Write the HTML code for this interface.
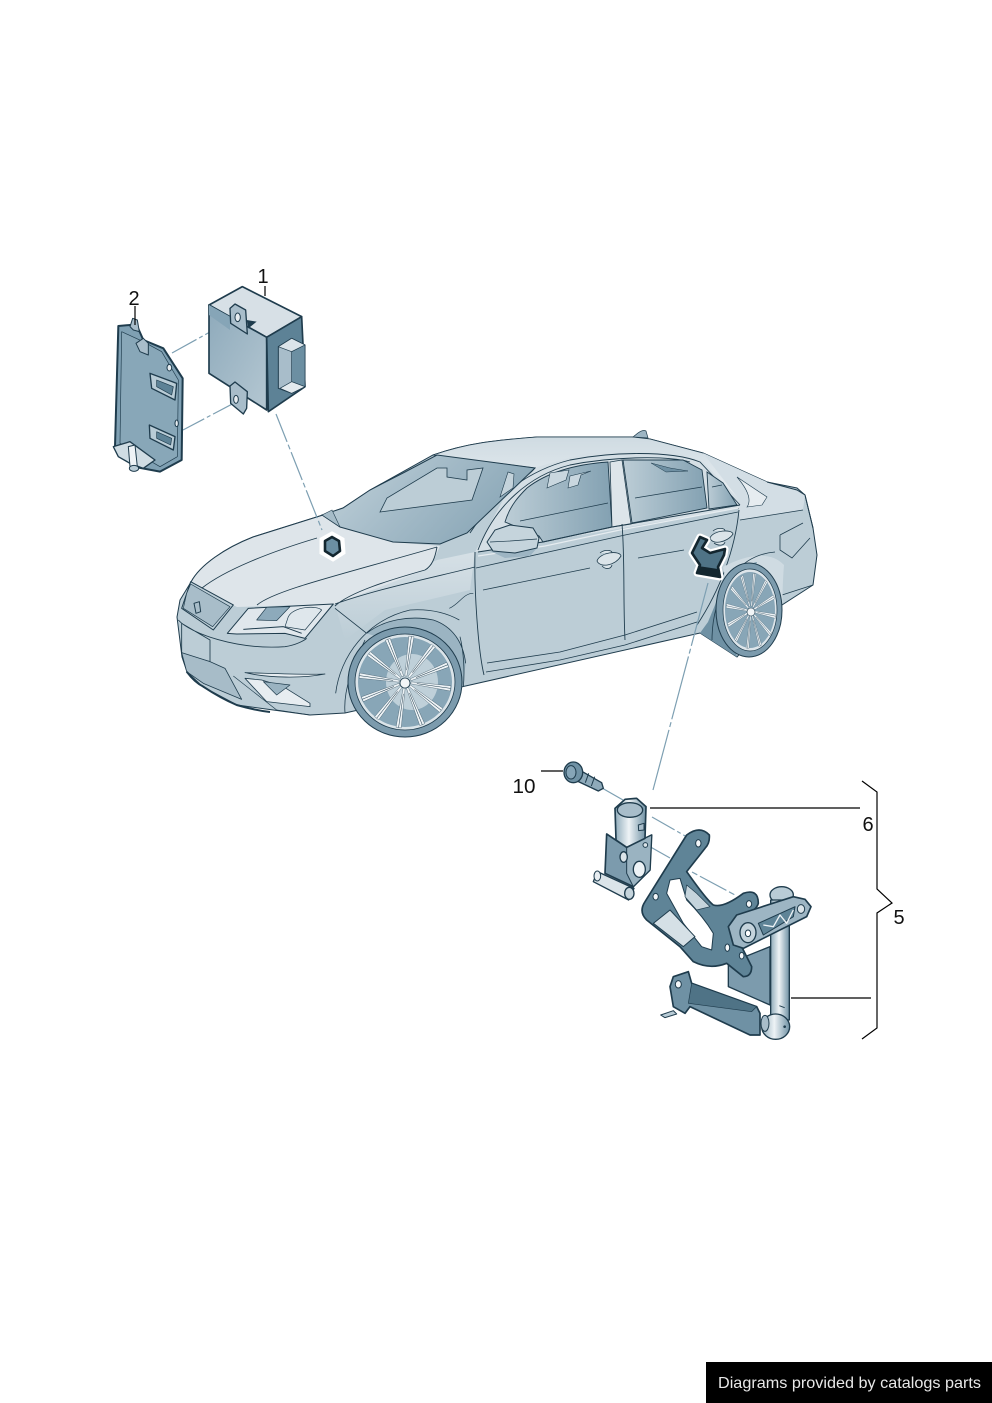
<!DOCTYPE html>
<html><head><meta charset="utf-8"><style>
html,body{margin:0;padding:0;background:#fff}
svg{display:block}
text{font-family:"Liberation Sans",sans-serif}
</style></head><body>
<svg xmlns="http://www.w3.org/2000/svg" width="992" height="1403" viewBox="0 0 992 1403">
<defs>
<linearGradient id="glass" x1="0" y1="0" x2="1" y2=".4"><stop offset="0" stop-color="#c4d4dc"/><stop offset=".55" stop-color="#a3bac7"/><stop offset="1" stop-color="#8aa7b7"/></linearGradient>
<linearGradient id="side" x1="0" y1="0" x2="1" y2="0"><stop offset="0" stop-color="#bccdd6"/><stop offset="1" stop-color="#83a1b2"/></linearGradient>
<linearGradient id="roof" x1="0" y1="0" x2="0" y2="1"><stop offset="0" stop-color="#cfdbe2"/><stop offset="1" stop-color="#eef2f5"/></linearGradient>
<linearGradient id="fend" x1="0" y1="0" x2="0" y2="1"><stop offset="0" stop-color="#d6e0e6"/><stop offset="1" stop-color="#bccdd6"/></linearGradient>
<linearGradient id="rod" x1="0" y1="0" x2="1" y2="0"><stop offset="0" stop-color="#8fabba"/><stop offset=".45" stop-color="#eef3f6"/><stop offset="1" stop-color="#6f91a4"/></linearGradient>
<linearGradient id="box" x1="0" y1="0" x2="1" y2="1"><stop offset="0" stop-color="#8eaabb"/><stop offset="1" stop-color="#b4c7d2"/></linearGradient>
<g id="spk"><path d="M-1 -6 L-2.6 -46 L2.6 -46 L1 -6Z" fill="#eef3f6" stroke="#1f3c4d" stroke-width=".3"/><path d="M0 -12V-46" stroke="#1f3c4d" stroke-width=".5"/></g>
<g id="wh">
<use href="#spk"/><use href="#spk" transform="rotate(30)"/><use href="#spk" transform="rotate(60)"/><use href="#spk" transform="rotate(90)"/><use href="#spk" transform="rotate(120)"/><use href="#spk" transform="rotate(150)"/><use href="#spk" transform="rotate(180)"/><use href="#spk" transform="rotate(210)"/><use href="#spk" transform="rotate(240)"/><use href="#spk" transform="rotate(270)"/><use href="#spk" transform="rotate(300)"/><use href="#spk" transform="rotate(330)"/>
</g>
</defs>

<!-- CAR BODY -->
<path d="M191 582C200 565 225 548 253 537L323 515 343 508 370 490 433 455C470 442 500 440 537 437L633 437 650 439 703 453 767 482 797 488 805 495 813 528 817 555 813 585 782 605 737 657 700 633 470 685 345 713 310 715 237 705 203 687 187 672 182 657 177 617 180 600Z" fill="#bccdd6" stroke="#1f3c4d" stroke-width="1"/>
<path d="M335 604 437 560 475 552 470 590 385 610 345 640Z" fill="url(#fend)"/>
<path d="M433 455C470 442 500 440 537 437L633 437 650 439 703 453 767 482 797 492 740 510 702 470 683 458 610 456 557 462 527 478 535 468Z" fill="url(#roof)" stroke="#1f3c4d" stroke-width=".8"/>
<path d="M191 582C200 565 225 548 253 537L323 515 340 527 393 542 440 546 430 568 335 604 237 607 233 605Z" fill="#dee5ea" stroke="none"/>
<path d="M191 582C200 565 225 548 253 537L323 515" fill="none" stroke="#1f3c4d" stroke-width="1"/>
<path d="M202 588C225 570 270 552 317 538M257 605C275 590 340 575 437 547M437 547C435 558 432 566 425 570 390 580 350 592 335 606M335 604C380 588 440 576 475 567" fill="none" stroke="#1f3c4d" stroke-width=".9"/>
<path d="M703 453 767 482 797 490 805 495 803 510 740 520 737 497Z" fill="#d3dee5"/>
<path d="M737 477 767 497 762 505 747 507C752 500 748 490 737 477Z" fill="#e6ecf0" stroke="#1f3c4d" stroke-width=".6"/>
<path d="M767 482 797 490 805 495 813 528" fill="none" stroke="#1f3c4d" stroke-width="1"/>
<path d="M740 520 803 510M780 535 803 523M780 535V550L792 558 810 538M782 595 813 585" fill="none" stroke="#1f3c4d" stroke-width=".8"/>
<path d="M475 552 503 500 537 467 587 453 670 450 703 462 737 497 739 508 612 530Z" fill="#d5dfe5" stroke="none"/>
<path d="M470 533C495 495 530 470 570 460 610 452 670 450 700 462L740 505M478 550C495 505 530 475 570 465 610 457 665 455 690 462" fill="none" stroke="#1f3c4d" stroke-width=".9"/>
<path d="M322 515 340 527 393 542 440 544 467 533 535 468 437 455 405 472 370 490 343 508Z" fill="url(#glass)" stroke="#1f3c4d" stroke-width="1"/>
<path d="M380 512 387 498 437 468 447 468 447 477 467 480 467 470 483 468 472 500Z" fill="#bccdd6" stroke="#1f3c4d" stroke-width=".8"/>
<path d="M322 515 332 510 340 527Z" fill="#a6bcc8" stroke="#1f3c4d" stroke-width=".6"/>
<path d="M500 497 508 472 514 474 513 488Z" fill="#c4d3db" stroke="#1f3c4d" stroke-width=".6"/>
<path d="M505 522C510 505 520 495 527 488 550 470 580 464 608 462L612 527 543 542 539 536Z" fill="url(#side)" stroke="#1f3c4d" stroke-width=".9"/>
<path d="M623 460 683 460 702 470 707 508 632 523Z" fill="url(#side)" stroke="#1f3c4d" stroke-width=".9"/>
<path d="M707 472 723 483 737 505 709 509Z" fill="url(#side)" stroke="#1f3c4d" stroke-width=".9"/>
<path d="M610 462 622 460 631 524 612 527Z" fill="#dde5ea" stroke="#1f3c4d" stroke-width=".8"/>
<path d="M520 521 608 503M635 498 702 487M712 487 722 485" fill="none" stroke="#1f3c4d" stroke-width=".7"/>
<path d="M547 488 566 480 569 470 550 473ZM568 488 570 476 591 471 581 475 578 485Z" fill="#c9d7df" stroke="#1f3c4d" stroke-width=".6"/>
<path d="M651 463 670 468 688 471 666 472Z" fill="#6f90a3" stroke="#1f3c4d" stroke-width=".5"/>
<path d="M478 552 543 542 612 527 740 505" fill="none" stroke="#1f3c4d" stroke-width="1"/>
<path d="M478 556 545 546 620 530 738 508" fill="none" stroke="#e6ecf0" stroke-width="1.2"/>
<path d="M475 552C474 590 478 650 484 675M622 524C625 560 623 600 625 640M739 510C735 550 720 590 697 625" fill="none" stroke="#1f3c4d" stroke-width=".9"/>
<path d="M476 568 625 535 738 512M483 590 590 568M638 558 684 550M487 663 560 652 625 635 697 612M486 672 560 660 625 645 697 622" fill="none" stroke="#1f3c4d" stroke-width=".8"/>
<path d="M597 561C600 552 620 550 621 556 615 566 600 568 597 561ZM600 553C605 549 612 550 612 553M602 566C606 570 611 569 612 565" fill="#dbe4e9" stroke="#1f3c4d" stroke-width=".8"/>
<path d="M710 538C713 530 732 529 733 534 727 543 712 545 710 538ZM713 531C718 527 725 528 725 531M714 543C718 546 724 546 725 542" fill="#dbe4e9" stroke="#1f3c4d" stroke-width=".8"/>
<path d="M490 551 537 548 530 556 505 558Z" fill="#9db5c3"/>
<path d="M487 542 495 530 510 525 533 528 539 538 537 548 515 553 493 551Z" fill="#c5d4dc" stroke="#1f3c4d" stroke-width="1"/>
<path d="M490 542 510 541 537 539" fill="none" stroke="#1f3c4d" stroke-width=".7"/>
<path d="M633 437C638 433 642 429 646 431L648 438Z" fill="#9db5c3" stroke="#1f3c4d" stroke-width=".7"/>

<!-- Front details -->
<g transform="translate(170 430) scale(.33333)" stroke-linejoin="round">
<path d="M62 455 190 525 130 600 35 535Z" fill="#bdced7" stroke="#1f3c4d" stroke-width="3"/>
<path d="M50 490 62 462 180 530 128 590 40 535Z" fill="#a8bdc9" stroke="#1f3c4d" stroke-width="2"/>
<path d="M72 520 88 515 92 545 78 550Z" fill="none" stroke="#1f3c4d" stroke-width="3"/>
<path d="M172 610 235 535 490 522 405 625 345 610 200 612Z" fill="#e0e7ec" stroke="#1f3c4d" stroke-width="3"/>
<path d="M260 570 290 532 360 530 320 572Z" fill="#8daabb" stroke="#1f3c4d" stroke-width="2"/>
<path d="M355 560C370 530 440 525 455 540L405 600 345 590Z" fill="#dfe7ec" stroke="#1f3c4d" stroke-width="2"/>
<path d="M220 598 340 590 395 610" fill="none" stroke="#1f3c4d" stroke-width="3"/>
<path d="M25 570C60 610 200 660 345 650 380 645 405 630 410 625M495 535 590 610M35 580 120 630 120 695 35 670Z" fill="none" stroke="#1f3c4d" stroke-width="2.6"/>
<path d="M35 668 120 695 165 715 215 808 100 760 50 725Z" fill="#a7bcc8" stroke="#1f3c4d" stroke-width="2.4"/>
<path d="M225 728C300 730 400 735 465 732 400 745 300 745 225 728ZM225 745 290 815 420 830 420 820 340 770 275 750Z" fill="#e7edf1" stroke="#1f3c4d" stroke-width="2.4"/>
<path d="M280 755 360 765 320 795Z" fill="#9ab3c1" stroke="#1f3c4d" stroke-width="2"/>
<path d="M190 738 320 840 420 855" fill="none" stroke="#1f3c4d" stroke-width="2"/>
<path d="M50 725C65 745 80 760 100 770 130 790 165 810 200 825 235 835 265 842 300 846" fill="none" stroke="#1f3c4d" stroke-width="6"/>
<path d="M590 610C640 570 720 555 790 570 850 590 880 640 887 700L878 770 850 700 790 610 705 590 620 620Z" fill="#9bb4c2"/>
<path d="M497 790C510 680 590 570 720 540 800 535 850 560 868 570M525 848C520 790 540 720 585 630M870 620C880 660 885 720 880 770M590 610C640 570 720 555 790 570 850 590 880 640 887 700" fill="none" stroke="#1f3c4d" stroke-width="2.4"/>
<path d="M838 535C870 520 880 490 910 490" fill="none" stroke="#1f3c4d" stroke-width="2"/>
</g>

<!-- Front wheel -->
<ellipse cx="405" cy="682" rx="57" ry="55" fill="#7c9bad" stroke="#1f3c4d" stroke-width="1"/>
<ellipse cx="405" cy="682" rx="50" ry="48" fill="#dbe4e9" stroke="#1f3c4d" stroke-width=".8"/>
<ellipse cx="405" cy="682" rx="47" ry="45" fill="#88a6b7"/>
<ellipse cx="412" cy="682" rx="26" ry="28" fill="#bfd0d9"/>
<use href="#wh" transform="translate(405 682) rotate(8)"/>
<circle cx="405" cy="683" r="5" fill="#f2f5f7" stroke="#1f3c4d" stroke-width=".8"/>

<!-- Rear wheel arch and wheel -->
<path d="M723 567C745 555 770 550 784 565 782 590 783 600 782 605L770 620 730 600Z" fill="#cfdbe2"/>
<path d="M700 633 708 622 715 605 722 585 727 575 737 567 757 562 730 625 737 657Z" fill="#6f91a4"/>
<path d="M712 640C712 595 735 555 775 552" fill="none" stroke="#1f3c4d" stroke-width=".8"/>
<ellipse cx="749" cy="610" rx="33" ry="47" fill="#7c9bad" stroke="#1f3c4d" stroke-width="1"/>
<ellipse cx="750" cy="610" rx="27" ry="41" fill="#dde5ea" stroke="#1f3c4d" stroke-width=".7"/>
<ellipse cx="750" cy="610" rx="25" ry="38" fill="#88a6b7"/>
<use href="#wh" transform="translate(751 611) scale(.54 .82) rotate(8)"/>
<circle cx="751" cy="612" r="4" fill="#f2f5f7" stroke="#1f3c4d" stroke-width=".6"/>

<!-- Markers on car -->
<path d="M332 533 343 539 344 553 333 560 321 553 321 539Z" fill="#fff" stroke="#fff" stroke-width="3"/>
<path d="M332 537 339 541 340 551 333 556 325 551 325 541Z" fill="#6b8fa3" stroke="#13262f" stroke-width="2.6" stroke-linejoin="round"/>
<path d="M700 537 707 540 702 548 710 553 725 549 724 555 718 567 720 577 697 573 700 565 692 553Z" fill="#fff" stroke="#fff" stroke-width="7" stroke-linejoin="round"/>
<path d="M700 537 707 540 702 548 710 553 725 549 724 555 718 567 720 577 697 573 700 565 692 553Z" fill="#4f7386" stroke="#13262f" stroke-width="2.6" stroke-linejoin="round"/>
<path d="M698 566 718 569 719 576 697 573Z" fill="#13262f"/>

<!-- Leader lines -->
<g stroke="#7d9fb2" stroke-width="1.2" fill="none">
<path d="M276 414 322 530" stroke-dasharray="30 3 5 3"/>
<path d="M172 353 237 317" stroke-dasharray="28 3 4 3"/>
<path d="M183 430 236 402" stroke-dasharray="24 3 4 3"/>
<path d="M708 583 653 790" stroke-dasharray="65 3 5 3"/>
<path d="M602 788 623 800"/>
<path d="M652 817 687 837" stroke-dasharray="26 3 4 3"/>
<path d="M647 845 670 858"/>
<path d="M692 872 735 895" stroke-dasharray="6 3 30 3"/>
</g>

<!-- Module and plate -->
<g transform="translate(100 260) scale(.33333)" stroke="#1f3c4d" stroke-linejoin="round">
<path d="M327 135 427 80 605 170 500 232Z" fill="#d7e0e6" stroke-width="5"/>
<path d="M327 135 500 232 500 450 327 340Z" fill="url(#box)" stroke-width="5"/>
<path d="M327 135 390 170 390 210 327 165Z" fill="#86a5b7" stroke="none"/>
<path d="M500 232 605 170 615 380 505 455Z" fill="#5d8296" stroke-width="5"/>
<path d="M535 260 575 235 615 255 615 380 575 400 535 385Z" fill="#a8bdca" stroke-width="3"/>
<path d="M535 260 575 235 615 255 575 275Z" fill="#dbe4ea" stroke-width="2"/>
<path d="M575 275 615 255 615 380 575 365Z" fill="#6c8fa2" stroke-width="2"/>
<path d="M540 385 575 365 615 380 575 400Z" fill="#e3eaee" stroke-width="2"/>
<path d="M440 180 470 185 445 205Z" fill="#1f3c4d" stroke="none"/>
<path d="M390 145 405 132 437 150 442 222 392 190Z" fill="#a8bdca" stroke-width="4"/>
<ellipse cx="413" cy="172" rx="8" ry="13" fill="#e7edf1" stroke-width="3"/>
<path d="M390 378 405 366 442 395 440 445 430 462 392 430Z" fill="#a8bdca" stroke-width="4"/>
<ellipse cx="408" cy="418" rx="7" ry="12" fill="#e7edf1" stroke-width="3"/>
<path d="M55 198 90 195 110 195 130 240 190 265 248 355 245 600 180 635 100 620 45 560Z" fill="#7fa0b3" stroke-width="6"/>
<path d="M65 215 130 245 185 275 235 360 232 590 180 620 60 550Z" fill="#88a7b8" stroke-width="2"/>
<path d="M150 340 230 370 225 420 155 385Z" fill="#b9ccd6" stroke-width="4"/>
<path d="M170 360 220 380 215 405 170 380Z" fill="#5d8296" stroke-width="2"/>
<path d="M148 495 225 530 220 570 150 535Z" fill="#b9ccd6" stroke-width="4"/>
<path d="M170 515 215 535 212 555 170 535Z" fill="#5d8296" stroke-width="2"/>
<path d="M108 250 130 235 145 250 145 285 120 275Z" fill="#a8bdca" stroke-width="3"/>
<path d="M90 200 98 175 112 180 118 215 100 210Z" fill="#a8bdca" stroke-width="3"/>
<ellipse cx="208" cy="323" rx="7" ry="10" fill="#e7edf1" stroke-width="3"/>
<ellipse cx="230" cy="490" rx="5" ry="10" fill="#e7edf1" stroke-width="3"/>
<path d="M40 560 90 545 165 600 130 625 90 610 55 590Z" fill="#cfdce3" stroke-width="4"/>
<path d="M85 560 105 555 112 620 90 620Z" fill="#eef3f6" stroke-width="3"/>
<ellipse cx="102" cy="625" rx="14" ry="9" fill="#b9ccd6" stroke-width="3"/>
</g>

<!-- Bolt, sensor, bracket -->
<g transform="translate(510 760) scale(.33333)" stroke="#1f3c4d" stroke-linejoin="round">
<path d="M205 28 275 68 280 85 265 93 195 60Z" fill="#8eaaba" stroke-width="4"/>
<path d="M218 30 208 58M236 40 226 68M254 50 244 78" stroke-width="3" fill="none"/>
<ellipse cx="190" cy="37" rx="28" ry="31" fill="#6f91a4" stroke-width="4"/>
<ellipse cx="183" cy="37" rx="15" ry="20" fill="#86a5b7" stroke-width="3"/>
<path d="M262 335 372 385 356 420 250 365Z" fill="#dbe4e9" stroke-width="4"/>
<path d="M290 222 350 262 425 225 420 330 370 380 285 340Z" fill="#7c9bad" stroke-width="5"/>
<path d="M350 262 425 225 420 330 370 380 350 340Z" fill="#9ab3c1" stroke-width="3"/>
<path d="M315 145 345 118 380 115 408 140 405 235 350 262 318 240Z" fill="url(#rod)" stroke-width="5"/>
<ellipse cx="360" cy="150" rx="38" ry="22" fill="#a8bdca" stroke-width="4"/>
<ellipse cx="341" cy="291" rx="11" ry="16" fill="#dbe4e9" stroke-width="4"/>
<ellipse cx="388" cy="328" rx="18" ry="24" fill="#eef3f6" stroke-width="4"/>
<circle cx="406" cy="255" r="7" fill="#dbe4e9" stroke-width="3"/>
<path d="M385 195 402 190 402 210 386 212Z" fill="#a8bdca" stroke-width="3"/>
<ellipse cx="358" cy="400" rx="14" ry="18" fill="#c5d4dc" stroke-width="4"/>
<ellipse cx="262" cy="348" rx="10" ry="15" fill="#e7edf1" stroke-width="3"/>
<path d="M655 610 780 560 780 735 655 680Z" fill="#7c9bad" stroke-width="4"/>
<path d="M530 225Q570 195 598 225 600 250 585 265L530 335Q590 420 610 435 640 445 700 400 745 385 745 430 740 450 700 470L680 500 690 550 725 620Q725 650 700 650L650 610Q600 630 550 605L510 560 410 480Q385 455 405 425Z" fill="#5f8497" stroke-width="5"/>
<path d="M480 360 510 355 530 420Q580 470 610 520L605 570 575 560 520 490 470 400Z" fill="#fff" stroke-width="3"/>
<path d="M430 490 480 450 555 530 520 560Z" fill="#d5e0e6" stroke-width="3"/>
<path d="M530 375 560 400 600 440 560 450 525 410Z" fill="#c5d4dc" stroke-width="2"/>
<ellipse cx="565" cy="250" rx="8" ry="11" fill="#f3f6f8" stroke-width="3"/>
<ellipse cx="437" cy="410" rx="8" ry="10" fill="#f3f6f8" stroke-width="3"/>
<ellipse cx="717" cy="432" rx="8" ry="10" fill="#f3f6f8" stroke-width="3"/>
<ellipse cx="652" cy="563" rx="7" ry="11" fill="#f3f6f8" stroke-width="3"/>
<ellipse cx="695" cy="587" rx="7" ry="10" fill="#f3f6f8" stroke-width="3"/>
<ellipse cx="815" cy="405" rx="35" ry="25" fill="#b9ccd6" stroke-width="4"/>
<path d="M782 420H838V780H782Z" fill="url(#rod)" stroke-width="4"/>
<path d="M480 680 490 650 535 635 545 670 740 740 750 760 750 825 720 825 540 740 525 760 490 740Z" fill="#6f91a4" stroke-width="5"/>
<path d="M545 670 740 740 725 755 535 730Z" fill="#4f7386" stroke-width="2"/>
<ellipse cx="505" cy="673" rx="9" ry="11" fill="#f3f6f8" stroke-width="3"/>
<path d="M452 765 490 752 500 762 465 773Z" fill="#b9ccd6" stroke-width="3"/>
<path d="M655 500 680 465 850 410 885 418 903 440 890 470 700 565 670 555Z" fill="#9db5c3" stroke-width="5"/>
<path d="M745 490 855 440 850 470 760 525Z" fill="#5f8497" stroke-width="3"/>
<path d="M760 495 790 500 810 465 830 490 850 450" fill="none" stroke="#eef3f6" stroke-width="4"/>
<ellipse cx="714" cy="518" rx="24" ry="30" fill="#c5d4dc" stroke-width="4"/>
<ellipse cx="714" cy="520" rx="8" ry="10" fill="#fff" stroke-width="3"/>
<ellipse cx="873" cy="447" rx="11" ry="13" fill="#dbe4e9" stroke-width="3"/>
<path d="M808 737 824 743" stroke-width="3"/>
<ellipse cx="797" cy="800" rx="42" ry="38" fill="url(#rod)" stroke-width="4"/>
<ellipse cx="765" cy="790" rx="12" ry="24" fill="#a8bdca" stroke-width="3"/>
<circle cx="824" cy="800" r="4" fill="#1f3c4d" stroke="none"/>
</g>

<!-- Callout lines -->
<g stroke="#000" stroke-width="1.2" fill="none">
<path d="M265 286V296M135 306V325M541 771H563M650 808H860M791 998H871"/>
<path d="M862 781 877 792V889L892 903 877 913V1028L862 1039"/>
</g>
<g fill="#111" font-size="20">
<text x="263" y="283" text-anchor="middle">1</text>
<text x="134" y="305" text-anchor="middle">2</text>
<text x="524" y="793" text-anchor="middle" textLength="23" lengthAdjust="spacingAndGlyphs">10</text>
<text x="868" y="831" text-anchor="middle">6</text>
<text x="899" y="924" text-anchor="middle">5</text>
</g>

<!-- Footer -->
<rect x="706" y="1362" width="286" height="41" fill="#000"/>
<text x="718" y="1388" fill="#e8e8e8" font-size="16" textLength="263" lengthAdjust="spacingAndGlyphs">Diagrams provided by catalogs parts</text>
</svg>
</body></html>
